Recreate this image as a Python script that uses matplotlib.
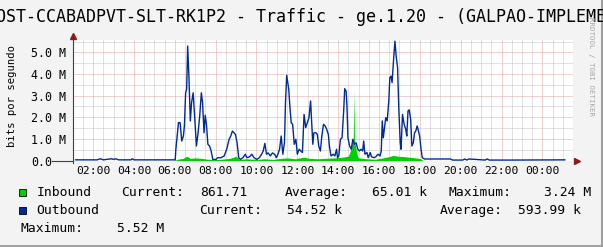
import matplotlib
matplotlib.use("Agg")
import matplotlib.pyplot as plt
from matplotlib.patches import Rectangle

# tempo em horas (25 = 01:00 do dia seguinte), valores em Mbit/s
out_t = [1.14, 1.6, 2.2, 2.35, 2.5, 2.9, 3.0, 3.1, 3.25, 3.85, 3.92, 4.0, 5.0, 5.7, 6.02,
         6.05, 6.18, 6.26, 6.34, 6.42, 6.47, 6.53, 6.58, 6.63, 6.69, 6.76, 6.82, 6.90, 6.98,
         7.06, 7.14, 7.22, 7.30, 7.36, 7.43, 7.49, 7.55, 7.62, 7.70, 7.78, 7.86, 8.02, 8.10,
         8.26, 8.42, 8.54, 8.66, 8.74, 8.82, 8.90, 8.97, 9.05, 9.13, 9.21, 9.34, 9.45, 9.53,
         9.66, 9.77, 9.88, 10.01, 10.14, 10.25, 10.33, 10.41, 10.49, 10.57, 10.68, 10.78,
         10.89, 10.97, 11.05, 11.13, 11.21, 11.29, 11.37, 11.42, 11.48, 11.58, 11.64, 11.70,
         11.77, 11.85, 11.93, 12.0, 12.09, 12.17, 12.25, 12.33, 12.41, 12.49, 12.57, 12.65,
         12.69, 12.76, 12.81, 12.92, 12.98, 13.05, 13.13, 13.20, 13.28, 13.36, 13.44, 13.52,
         13.57, 13.65, 13.76, 13.84, 13.92, 13.97, 14.03, 14.11, 14.19, 14.27, 14.32, 14.39,
         14.43, 14.48, 14.56, 14.64, 14.72, 14.80, 14.88, 14.96, 15.04, 15.12, 15.20, 15.25,
         15.31, 15.41, 15.47, 15.57, 15.63, 15.76, 15.84, 15.95, 16.05, 16.11, 16.16, 16.21,
         16.27, 16.33, 16.40, 16.48, 16.53, 16.59, 16.64, 16.72, 16.78, 16.84, 16.91, 16.97,
         17.04, 17.08, 17.15, 17.23, 17.31, 17.36, 17.42, 17.48, 17.55, 17.61, 17.68, 17.74,
         17.80, 17.87, 17.93, 17.99, 18.06, 18.12, 18.23, 18.8, 19.5, 19.6, 20.1, 20.2,
         20.3, 20.4, 21.2, 21.3, 21.4, 22.5, 25.1]
out_v = [0.03, 0.03, 0.03, 0.08, 0.03, 0.08, 0.05, 0.08, 0.03, 0.03, 0.08, 0.03, 0.03, 0.03, 0.03,
         0.5, 1.75, 1.75, 0.9, 1.13, 1.6, 3.13, 3.29, 5.29, 3.9, 1.83, 2.67, 3.13, 1.9,
         0.67, 1.28, 2.06, 3.13, 2.67, 1.28, 2.09, 1.67, 0.75, 0.67, 0.44, 0.05, 0.05, 0.13,
         0.13, 0.21, 0.52, 0.98, 1.13, 1.36, 1.28, 1.2, 0.82, 0.13, 0.05, 0.13, 0.29, 0.13,
         0.17, 0.29, 0.13, 0.05, 0.13, 0.29, 0.44, 0.79, 0.29, 0.35, 0.21, 0.35,
         0.29, 0.13, 0.29, 0.52, 1.13, 0.29, 0.82, 2.67, 3.94, 3.29, 2.44, 1.75,
         1.67, 0.75, 0.98, 0.29, 0.52, 0.44, 0.37, 2.13, 1.52, 1.75, 1.98, 2.75,
         1.98, 0.75, 1.28, 1.28, 1.2, 0.67, 0.44, 1.13, 1.67, 1.6, 1.44, 1.2,
         0.67, 0.21, 0.29, 0.21, 0.52, 0.13, 0.21, 0.98, 1.05, 2.29, 3.32, 3.2,
         2.52, 1.05, 0.67, 0.52, 0.98, 0.75, 0.82, 0.52, 0.44, 0.52, 0.44, 0.9,
         0.29, 0.37, 0.13, 0.37, 0.17, 0.13, 0.17, 0.29, 0.21, 0.44, 1.83, 1.05,
         1.52, 1.98, 1.83, 2.75, 3.83, 3.9, 3.6, 4.75, 5.52, 4.83, 4.29, 2.37,
         0.82, 0.52, 2.13, 1.67, 1.44, 1.13, 2.29, 2.34, 1.9, 0.67, 0.82, 1.28,
         1.36, 1.6, 1.36, 1.13, 0.52, 0.13, 0.07, 0.07, 0.07, 0.02, 0.02, 0.07,
         0.02, 0.07, 0.02, 0.07, 0.02, 0.02, 0.03]

in_t = [1.14, 5.9, 6.02, 6.2, 6.4, 6.6, 6.75, 7.0, 7.3, 7.6, 7.9, 8.3, 8.7, 9.0, 9.15, 9.5,
        10.0, 10.4, 10.8, 11.2, 11.5, 11.9, 12.3, 12.6, 13.0, 13.4, 13.8, 14.2, 14.5, 14.6,
        14.68, 14.74, 14.77, 14.8, 14.86, 14.92, 15.0, 15.4, 15.8, 16.2, 16.5, 16.7, 16.9,
        17.2, 17.5, 17.8, 18.05, 18.15, 25.1]
in_v = [0.0, 0.0, 0.02, 0.07, 0.1, 0.2, 0.1, 0.12, 0.1, 0.06, 0.04, 0.06, 0.1, 0.2, 0.05, 0.08,
        0.05, 0.08, 0.05, 0.1, 0.12, 0.08, 0.15, 0.1, 0.08, 0.1, 0.12, 0.15, 0.2, 0.45,
        0.85, 0.9, 3.24, 0.9, 0.6, 0.3, 0.12, 0.08, 0.06, 0.12, 0.18, 0.24, 0.2,
        0.18, 0.15, 0.12, 0.08, 0.0, 0.0]

x_ticks = [2, 4, 6, 8, 10, 12, 14, 16, 18, 20, 22, 24]
x_labels = ["02:00", "04:00", "06:00", "08:00", "10:00", "12:00", "14:00", "16:00",
            "18:00", "20:00", "22:00", "00:00"]
y_ticks = [0, 1, 2, 3, 4, 5]
y_labels = ["0.0", "1.0 M", "2.0 M", "3.0 M", "4.0 M", "5.0 M"]

legenda = [
    ("Inbound", "#00CF00", [("Current:", 120.7), ("861.71", 200), ("Average:", 285),
                            ("65.01 k", 371.7), ("Maximum:", 448.3), ("3.24 M", 543.5)]),
    ("Outbound", "#002A97", [("Current:", 199), ("54.52 k", 286.7), ("Average:", 440),
                             ("593.99 k", 518.3)]),
]
linha_extra = [("Maximum:", 20.7), ("5.52 M", 116.7)]

titulo = "HOST-CCABADPVT-SLT-RK1P2 - Traffic - ge.1.20 - (GALPAO-IMPLEMENTACAO)"

W, H = 603, 247
mono = "DejaVu Sans Mono"

fig = plt.figure(figsize=(W / 100, H / 100), dpi=100, facecolor="#F3F3F3")
ax = fig.add_axes([72.7 / W, (H - 160.5) / H, 500.3 / W, 120.5 / H])
ax.set_facecolor("white")

ax.fill_between(in_t, in_v, 0, color="#00CF00", lw=0, zorder=3)
ax.plot(out_t, out_v, color="#002A97", lw=1.0, zorder=4)

ax.set_xlim(1.138, 25.10)
ax.set_ylim(0, 5.57)

ax.set_xticks(x_ticks)
ax.set_xticklabels(x_labels, fontsize=8.2, family=mono)
ax.set_xticks([t + 0.5 * k for t in range(1, 26) for k in (0, 1)], minor=True)
ax.set_yticks(y_ticks)
ax.set_yticklabels(y_labels, fontsize=8.4, family=mono, ha="left")
ax.set_yticks([0.5, 1.5, 2.5, 3.5, 4.5, 5.5], minor=True)
ax.tick_params(axis="both", which="both", length=0)
ax.tick_params(axis="x", pad=4.2)
ax.tick_params(axis="y", pad=30.2)

ax.grid(which="minor", color="#C4C4C4", lw=0.72, dashes=(1, 1), zorder=1)
ax.grid(which="major", color="#EBA0A0", lw=0.72, dashes=(1, 1), zorder=2)
for s in ax.spines.values():
    s.set_visible(False)

# eixos com setas (estilo rrdtool)
ax.plot([-0.006, 1.01], [0, 0], color="#404040", lw=0.8, clip_on=False, zorder=5)
ax.plot([0, 0], [-0.02, 1.03], color="#404040", lw=0.8, clip_on=False, zorder=5,
        transform=ax.transAxes)
ax.plot([1.008], [0], marker=">", ms=4.5, color="#8C1A1A", clip_on=False, zorder=6,
        transform=ax.transAxes)
ax.plot([0], [1.033], marker="^", ms=4.5, color="#8C1A1A", clip_on=False, zorder=6,
        transform=ax.transAxes)

fig.text(-13.8 / W, 1 - 17 / H, titulo, fontsize=12, family=mono, ha="left", va="center")
fig.text(11.7 / W, 1 - 96 / H, "bits por segundo", rotation=90, fontsize=7.6,
         family=mono, ha="center", va="center")
fig.text(591.5 / W, 1 - 66 / H, "RRDTOOL / TOBI OETIKER", rotation=270, fontsize=5.4,
         family=mono, color="#A8A8A8", ha="center", va="center")

ys = [192.5, 210]
for (nome, cor, campos), y in zip(legenda, ys):
    fig.add_artist(Rectangle((19 / W, 1 - (y + 3.5) / H), 7 / W, 7 / H,
                             transform=fig.transFigure, facecolor=cor,
                             edgecolor="black", lw=0.6))
    fig.text(36.7 / W, 1 - y / H, nome, fontsize=9.4, family=mono, va="center")
    for txt, x in campos:
        fig.text(x / W, 1 - y / H, txt, fontsize=9.4, family=mono, va="center")
for txt, x in linha_extra:
    fig.text(x / W, 1 - 228 / H, txt, fontsize=9.4, family=mono, va="center")

# moldura 3D
fig.add_artist(Rectangle((0, 0), 1, 2 / H, transform=fig.transFigure, color="#A0A0A0", lw=0))
fig.add_artist(Rectangle((1 - 2 / W, 0), 2 / W, 1, transform=fig.transFigure, color="#A0A0A0", lw=0))

fig.savefig("out.png", dpi=100, facecolor=fig.get_facecolor())
